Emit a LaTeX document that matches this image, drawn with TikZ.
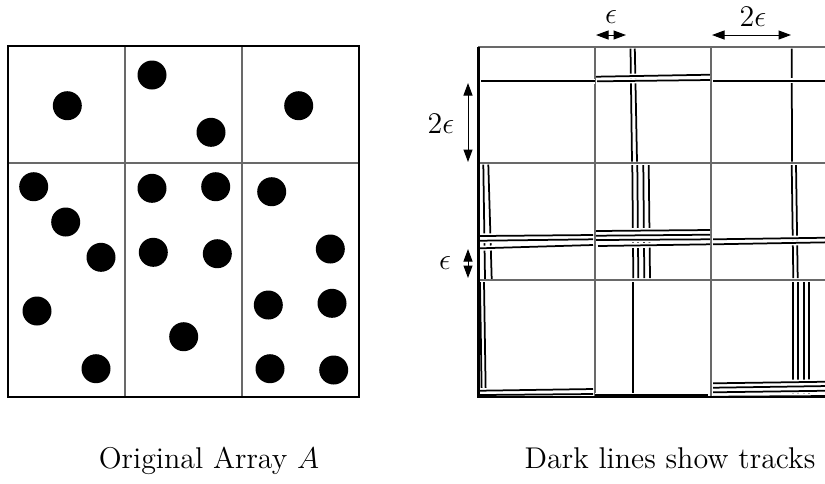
\documentclass[tikz,border=0pt]{standalone}
\usepackage{xcolor}
\definecolor{gridgrey}{RGB}{105,105,105}
\usepackage{tikz}
\usetikzlibrary{arrows.meta}
\tikzset{
  cellline/.style={draw=gridgrey, line width=0.45pt},
  border/.style={draw=black, line width=0.55pt},
  trk/.style={draw=black, line width=0.7pt, preaction={draw=white, line width=2pt}},
  dot/.style={fill=black},
  dim/.style={{Triangle[length=5pt,width=3.6pt]}-{Triangle[length=5pt,width=3.6pt]}, line width=0.4pt},
  lbl/.style={font=\large, inner sep=0pt},
  capt/.style={font=\large, inner sep=0pt, anchor=base}
}

\begin{document}
\begin{tikzpicture}[x=0.4pt, y=-0.4pt]
  \clip (0,0) rectangle (825,483);

  % original array
  \foreach \i in {125,242} {
    \draw[cellline] (\i,46) -- (\i,397);
    \draw[cellline] (8,\i-79) -- (359,\i-79);
  }
  \draw[border] (8,46) rectangle (359,397);
  \foreach \x/\y in {67.3/105.7, 152/75, 211/132.3, 298.7/105.7,
                     33.7/186.7, 65.7/222, 101/257.3, 152/188.3, 215.7/186.7,
                     153.3/252.3, 217.3/253.7, 271.7/191.7, 330.3/249,
                     37/311, 96/368.7, 183.7/336.7, 268.3/305, 332/303.3,
                     270/368.7, 333.7/370}
    \fill[dot] (\x,\y) circle[radius=5.8pt];

  % tracks
  \foreach \i in {595,711} \draw[cellline] (\i,47) -- (\i,397);
  \foreach \j in {163,280} \draw[cellline] (478,\j) -- (828,\j);
  \draw[cellline] (478,47) -- (828,47);

  % top row
  \draw[trk] (481,81) -- (595,81);
  \draw[trk] (630.5,48.5) -- (632,161.5);
  \draw[trk] (634.8,48.5) -- (637,161.5);
  \draw[trk] (596,76.7) -- (710,74.7);
  \draw[trk] (597,81.3) -- (710,80);
  \draw[trk] (791.7,48.5) -- (792,161.5);
  \draw[trk] (713,80.7) -- (828,80.7);
  % middle row
  \draw[trk] (483.3,164.5) -- (485,279);
  \draw[trk] (488.3,164.5) -- (491.7,279);
  \draw[trk] (480,236) -- (593,235);
  \draw[trk] (480,240.7) -- (593,239.3);
  \draw[trk] (480,248.3) -- (593,245);
  \foreach \x/\xx in {632.3/633.3, 637.3/638.3, 643.3/644.3, 648.7/650}
    \draw[trk] (\x,165) -- (\xx,278);
  \foreach \y/\yy/\s in {231/230/596, 235.7/234.7/596, 240/239.3/596, 246/244.3/598}
    \draw[trk] (\s,\y) -- (710,\yy);
  \draw[trk] (791.7,165) -- (793.3,278);
  \draw[trk] (796,165) -- (797.7,278);
  \draw[trk] (713,239.3) -- (828,237.7);
  \draw[trk] (713,244.3) -- (828,242.3);
  % bottom row
  \draw[trk] (480,282) -- (481.7,393);
  \draw[trk] (484,282) -- (485.7,393);
  \draw[trk] (480,390.7) -- (593,389);
  \draw[trk] (480,395) -- (593,394);
  \draw[trk] (633.3,282) -- (633.3,395);
  \draw[trk] (595,395) -- (708,395);
  \foreach \x in {793.3,798.3,804.3,809}
    \draw[trk] (\x,282) -- (\x,396);
  \foreach \y/\yy in {383.3/381.7, 387.7/386, 392.3/390.7, 396.7/396}
    \draw[trk] (713,\y) -- (828,\yy);

  \draw[black, line width=1.2pt] (478,47) -- (478,397.5);
  \draw[black, line width=0.6pt] (478,397) -- (828,397);

  % widths
  \coordinate (ea) at (596,35);
  \coordinate (eb) at (626,35);
  \coordinate (fa) at (712,35);
  \coordinate (fb) at (791,35);
  \coordinate (ga) at (468,83);
  \coordinate (gb) at (468,162);
  \coordinate (ha) at (468,249);
  \coordinate (hb) at (468,278);
  \draw[dim] (ea) -- (eb);
  \draw[dim] (fa) -- (fb);
  \draw[dim] (ga) -- (gb);
  \draw[dim] (ha) -- (hb);
  \node[lbl] (elbl) at (611,17) {$\epsilon$};
  \node[lbl] (flbl) at (753,17) {$2\epsilon$};
  \node[lbl] (glbl) at (441,124) {$2\epsilon$};
  \node[lbl] (hlbl) at (445,263) {$\epsilon$};

  \node[capt] (orig) at (209,468) {Original Array $A$};
  \node[capt] (trks) at (670,468) {Dark lines show tracks};
\end{tikzpicture}
\end{document}
